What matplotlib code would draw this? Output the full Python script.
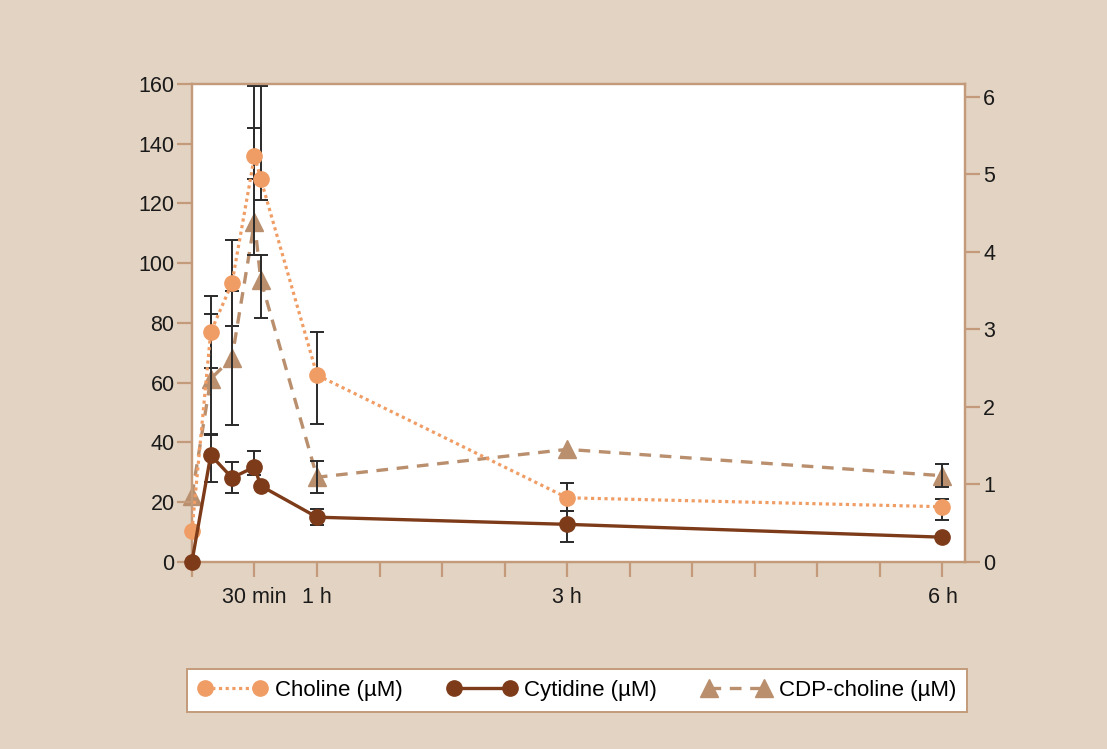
import matplotlib
matplotlib.use("Agg")
import matplotlib.pyplot as plt
import numpy as np
from matplotlib.ticker import FixedLocator, FixedFormatter

plt.rcParams['font.family'] = ['Liberation Sans', 'DejaVu Sans']

# ---- data (time in hours) ----
time_h = [0, 0.15, 0.32, 0.5, 0.55, 1, 3, 6]

choline = [10.4, 76.9, 93.3, 135.9, 128.2, 62.5, 21.4, 18.4]
choline_hi = [None, 89.1, 107.7, 159.3, 159.3, 76.8, 26.3, 21.0]
choline_lo = [None, 65.0, 79.0, 128.2, 121.3, 46.1, 17.0, 14.0]

cytidine = [0, 35.7, 28.1, 31.7, 25.4, 14.9, 12.5, 8.2]
cytidine_hi = [None, 42.7, 33.3, 37.1, None, 17.6, 17.0, None]
cytidine_lo = [None, 26.6, 22.9, 29.0, None, 12.3, 6.7, None]

cdp = [0.85, 2.36, 2.63, 4.39, 3.64, 1.09, 1.45, 1.11]
cdp_hi = [None, 3.20, 3.50, 5.60, 3.96, 1.30, None, 1.26]
cdp_lo = [None, 1.64, 1.76, 3.96, 3.15, 0.89, None, 0.97]

x_ticks = [0, 0.5, 1, 1.5, 2, 2.5, 3, 3.5, 4, 4.5, 5, 5.5, 6]
x_labels = ['', '30 min', '1 h', '', '', '', '3 h', '', '', '', '', '', '6 h']
left_ticks = [0, 20, 40, 60, 80, 100, 120, 140, 160]
right_ticks = [0, 1, 2, 3, 4, 5, 6]

series_names = ['Choline (µM)', 'Cytidine (µM)', 'CDP-choline (µM)']

# ---- style ----
BG = '#e3d3c2'
SPINE = '#c39b7b'
C_CHOL = '#f09d65'
C_CYT = '#7d3b19'
C_CDP = '#b98f6e'
C_ERR = '#2a2a2a'
FS = 15.5


def err_arrays(x, y, hi, lo):
    xs, ys, lower, upper = [], [], [], []
    for xi, yi, h, l in zip(x, y, hi, lo):
        if h is None:
            continue
        xs.append(xi)
        ys.append(yi)
        lower.append(yi - l)
        upper.append(h - yi)
    return np.array(xs), np.array(ys), np.array([lower, upper])


fig = plt.figure(figsize=(11.07, 7.49), dpi=100, facecolor=BG)
ax = fig.add_axes([0.1734, 0.2501, 0.8717 - 0.1734, 0.8879 - 0.2501])
ax2 = ax.twinx()

ax.set_zorder(2)
ax2.set_zorder(1)
ax.patch.set_visible(False)
ax2.patch.set_visible(True)
ax2.patch.set_facecolor('white')

ekw = dict(fmt='none', ecolor=C_ERR, elinewidth=1.4, capsize=4.8, capthick=1.4)

# CDP-choline on right axis
l_cdp, = ax2.plot(time_h, cdp, color=C_CDP, lw=2.4, linestyle=(0, (3.5, 2.6)),
                  marker='^', markersize=12.5, markerfacecolor=C_CDP,
                  markeredgecolor=C_CDP, zorder=2, label=series_names[2],
                  clip_on=False)
xs, ys, e = err_arrays(time_h, cdp, cdp_hi, cdp_lo)
ax2.errorbar(xs, ys, yerr=e, zorder=3, **ekw)

# choline and cytidine on left axis
xs, ys, e = err_arrays(time_h, choline, choline_hi, choline_lo)
ax.errorbar(xs, ys, yerr=e, zorder=2, **ekw)
xs, ys, e = err_arrays(time_h, cytidine, cytidine_hi, cytidine_lo)
ax.errorbar(xs, ys, yerr=e, zorder=2, **ekw)

l_chol, = ax.plot(time_h, choline, color=C_CHOL, lw=2.3, linestyle=(0, (1, 1.1)),
                  marker='o', markersize=11, markerfacecolor=C_CHOL,
                  markeredgecolor=C_CHOL, zorder=3, label=series_names[0],
                  clip_on=False)
l_cyt, = ax.plot(time_h, cytidine, color=C_CYT, lw=2.4, linestyle='-',
                 marker='o', markersize=11, markerfacecolor=C_CYT,
                 markeredgecolor=C_CYT, zorder=4, label=series_names[1],
                 clip_on=False)

# axes limits and ticks
ax.set_xlim(0, 6.18)
ax.set_ylim(0, 160)
ax2.set_ylim(0, 6.168)

ax.xaxis.set_major_locator(FixedLocator(x_ticks))
ax.xaxis.set_major_formatter(FixedFormatter(x_labels))
ax.set_yticks(left_ticks)
ax2.set_yticks(right_ticks)

for a in (ax, ax2):
    for s in a.spines.values():
        s.set_color(SPINE)
        s.set_linewidth(1.6)

ax.tick_params(axis='both', which='major', direction='out', length=10.5, width=1.6,
               color=SPINE, labelsize=FS, labelcolor='#1a1a1a')
ax.tick_params(axis='y', pad=2)
ax.tick_params(axis='x', pad=8)
ax2.tick_params(axis='y', direction='out', length=10.5, width=1.6, color=SPINE,
                labelsize=FS, labelcolor='#1a1a1a', pad=2.5)

# legend
leg = fig.legend(handles=[l_chol, l_cyt, l_cdp], labels=series_names,
                 loc='center', ncol=3, mode='expand',
                 bbox_to_anchor=(187 / 1107, 1 - 713 / 749, 780 / 1107, 45 / 749),
                 bbox_transform=fig.transFigure, borderaxespad=0,
                 numpoints=2, handlelength=3.1, handletextpad=0.35,
                 fontsize=16, frameon=True, fancybox=False, framealpha=1,
                 facecolor='white', edgecolor=SPINE, borderpad=0.5)
leg.get_frame().set_linewidth(1.4)

fig.savefig('out.png', dpi=100, facecolor=BG)
